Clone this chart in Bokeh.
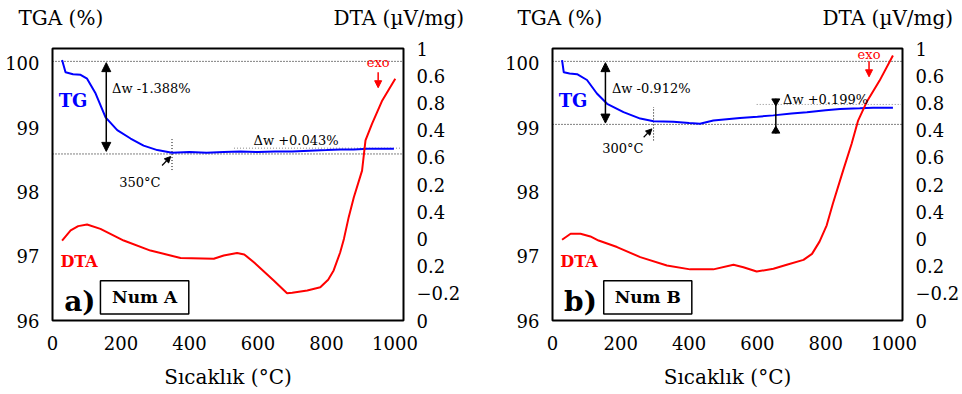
from bokeh.plotting import figure
from bokeh.layouts import row, column
from bokeh.models import Range1d, LinearAxis, FixedTicker, Label, Arrow, NormalHead
from bokeh.core.properties import value
from bokeh.embed import file_html
from bokeh.resources import INLINE

# ---------------- data ----------------
# Panel a) Num A
tg_a_T = [28, 38, 60, 82, 101, 126, 155, 189, 228, 266, 306, 349, 400, 450, 500, 549, 600, 650, 700, 750, 800, 841, 880, 920, 960, 997]
tg_a_v = [100.05, 99.86, 99.83, 99.82, 99.76, 99.53, 99.16, 98.96, 98.83, 98.72, 98.65, 98.61, 98.62, 98.61, 98.62, 98.63, 98.62, 98.63, 98.63, 98.64, 98.65, 98.66, 98.66, 98.67, 98.67, 98.67]
dta_a_T = [28, 53, 75, 101, 140, 208, 286, 374, 471, 500, 539, 560, 588, 646, 685, 700, 744, 782, 805, 821, 840, 851, 865, 880, 904, 914, 933, 963, 1001]
dta_a_v = [0.294, 0.331, 0.347, 0.353, 0.337, 0.294, 0.257, 0.230, 0.227, 0.239, 0.248, 0.243, 0.214, 0.147, 0.100, 0.102, 0.110, 0.122, 0.150, 0.184, 0.250, 0.300, 0.380, 0.453, 0.551, 0.662, 0.723, 0.809, 0.889]

# Panel b) Num B
tg_b_T = [28, 33, 50, 72, 101, 130, 160, 208, 257, 296, 354, 400, 432, 471, 549, 600, 647, 700, 745, 800, 842, 900, 939, 997]
tg_b_v = [100.05, 99.86, 99.84, 99.83, 99.74, 99.53, 99.37, 99.24, 99.14, 99.10, 99.09, 99.07, 99.06, 99.11, 99.15, 99.17, 99.19, 99.22, 99.24, 99.27, 99.29, 99.30, 99.31, 99.31]
dta_b_T = [28, 53, 82, 111, 135, 189, 257, 335, 403, 471, 530, 559, 598, 647, 686, 735, 760, 782, 803, 821, 851, 876, 895, 920, 958, 997]
dta_b_v = [0.297, 0.319, 0.319, 0.309, 0.294, 0.270, 0.233, 0.202, 0.188, 0.188, 0.205, 0.196, 0.180, 0.190, 0.205, 0.223, 0.245, 0.290, 0.350, 0.429, 0.551, 0.650, 0.735, 0.803, 0.882, 0.974]

x_ticks = [0, 200, 400, 600, 800, 1000]
tga_ticks = [96, 97, 98, 99, 100]
dta_tick_pos = [0, 0.1, 0.2, 0.3, 0.4, 0.5, 0.6, 0.7, 0.8, 0.9, 1.0]
dta_tick_labels = ["0", "\u22120.2", "0.2", "0", "0.4", "0.2", "0.6", "0.4", "0.8", "0.6", "1"]
titles = ["TGA (%)", "DTA (\u00b5V/mg)"]

FONT = "DejaVu Serif"
BLUE = "#0000ff"
RED = "#ff0000"


def title_strip(width, xs):
    t = figure(width=width, height=34, output_backend="svg", toolbar_location=None,
               x_range=Range1d(0, width), y_range=Range1d(0, 34),
               x_axis_type=None, y_axis_type=None, min_border=0)
    t.outline_line_color = None
    t.grid.visible = False
    t.text(x=xs, y=[17, 17], text=titles, text_font=value(FONT), text_font_size="20px",
           text_baseline="middle", text_align="left", text_color="black")
    return t


def make_panel(width, right_border, tgT, tgV, dT, dV, letter, name, cfg):
    p = figure(width=width, height=360, output_backend="svg", toolbar_location=None,
               x_range=Range1d(0, 1025), y_range=Range1d(96, 100.23),
               min_border_left=52, min_border_right=right_border,
               min_border_top=14, min_border_bottom=74)
    p.extra_y_ranges = {"dta": Range1d(0, 1)}
    p.grid.visible = False
    p.outline_line_color = "black"
    p.outline_line_width = 2
    p.background_fill_color = "white"
    p.border_fill_color = "white"

    xa = p.xaxis[0]
    xa.ticker = FixedTicker(ticks=x_ticks)
    xa.axis_label = "S\u0131cakl\u0131k (\u00b0C)"
    ya = p.yaxis[0]
    ya.ticker = FixedTicker(ticks=tga_ticks)
    ra = LinearAxis(y_range_name="dta", ticker=FixedTicker(ticks=dta_tick_pos),
                    major_label_overrides={t: l for t, l in zip(dta_tick_pos, dta_tick_labels)})
    p.add_layout(ra, "right")
    for ax in (xa, ya, ra):
        ax.axis_line_color = None
        ax.major_tick_line_color = None
        ax.minor_tick_line_color = None
        ax.major_label_text_font = FONT
        ax.major_label_text_font_size = "18px"
        ax.major_label_text_color = "black"
        ax.axis_label_text_font = FONT
        ax.axis_label_text_font_size = "20px"
        ax.axis_label_text_font_style = "normal"
        ax.axis_label_text_color = "black"
    xa.major_label_standoff = 9
    xa.axis_label_standoff = 12
    ya.major_label_standoff = 7
    ra.major_label_standoff = 7

    # dotted guide lines
    p.line([0, 1025], [cfg["top"], cfg["top"]], line_color="black", line_dash="1 2", line_width=1)
    p.line([0, 1025], [cfg["low"], cfg["low"]], line_color="black", line_dash="1 2", line_width=1)
    p.line([cfg["grey_x0"], 1025], [cfg["grey_y"], cfg["grey_y"]], line_color="#888888", line_dash="1 2", line_width=1)
    p.line([cfg["vT"], cfg["vT"]], cfg["vY"], line_color="black", line_dash="1 2", line_width=1)

    # curves
    p.line(tgT, tgV, line_color=BLUE, line_width=2)
    p.line(dT, dV, line_color=RED, line_width=2, y_range_name="dta")

    # arrows
    p.add_layout(Arrow(x_start=cfg["aT"], y_start=cfg["aY"][0], x_end=cfg["aT"], y_end=cfg["aY"][1],
                       line_color="black", line_width=1.5,
                       start=NormalHead(size=9, fill_color="black", line_color="black"),
                       end=NormalHead(size=9, fill_color="black", line_color="black")))
    p.add_layout(Arrow(x_start=cfg["pT"][0], y_start=cfg["pY"][0], x_end=cfg["pT"][1], y_end=cfg["pY"][1],
                       line_color="black", line_width=1.2,
                       end=NormalHead(size=6, fill_color="black", line_color="black")))
    p.add_layout(Arrow(x_start=cfg["eT"], y_start=cfg["eY"][0], x_end=cfg["eT"], y_end=cfg["eY"][1],
                       line_color=RED, line_width=1.5,
                       end=NormalHead(size=7, fill_color=RED, line_color=RED)))
    if cfg.get("ibar"):
        bT, b0, b1 = cfg["ibar"]
        p.segment([bT], [b0], [bT], [b1], line_color="black", line_width=1.5)
        p.scatter([bT], [b1 - 0.04], marker="inverted_triangle", size=8, color="black")
        p.scatter([bT], [b0 + 0.04], marker="triangle", size=8, color="black")

    def lab(x, y, text, size, color="black", style="normal", align="left"):
        p.add_layout(Label(x=x, y=y, text=text, text_font=FONT, text_font_size=size,
                           text_color=color, text_font_style=style, text_align=align,
                           text_baseline="middle"))

    lab(18, 99.42, "TG", "18px", BLUE, "bold")
    lab(23, 96.91, "DTA", "16px", RED, "bold")
    lab(cfg["dwT"], 99.61, cfg["dw1"], "13px")
    lab(cfg["dw2T"], cfg["dw2Y"], cfg["dw2"], "13px")
    lab(cfg["tT"], cfg["tY"], cfg["ttxt"], "13px", align="center")
    lab(cfg["eT"], cfg["exoY"], "exo", "13px", RED, align="center")
    lab(34, 96.30, letter, "28px", "black", "bold")

    bx0, bx1 = cfg["box"]
    p.quad(left=[bx0], right=[bx1], bottom=[96.10], top=[96.62], fill_color="white",
           line_color="black", line_width=1.5)
    lab((bx0 + bx1) / 2, 96.36, name, "17px", "black", "bold", align="center")
    return p


cfg_a = dict(top=100.03, low=98.59, grey_x0=530, grey_y=98.68, vT=349, vY=[98.34, 98.82],
             aT=157, aY=[98.63, 100.01], pT=[320, 345], pY=[98.41, 98.55],
             eT=951, eY=[99.86, 99.62], exoY=100.02, dwT=174, dw1="\u0394w -1.388%",
             dw2T=587, dw2Y=98.80, dw2="\u0394w +0.043%", tT=255, tY=98.14, ttxt="350\u00b0C",
             box=[140, 398])
cfg_b = dict(top=100.03, low=99.05, grey_x0=598, grey_y=99.36, vT=296, vY=[98.80, 99.32],
             aT=155, aY=[99.07, 100.01], pT=[267, 291], pY=[98.85, 98.98],
             eT=927, eY=[100.03, 99.79], exoY=100.13, dwT=174, dw1="\u0394w -0.912%",
             dw2T=675, dw2Y=99.43, dw2="\u0394w +0.199%", tT=206, tY=98.67, ttxt="300\u00b0C",
             box=[150, 408], ibar=(654, 98.91, 99.45))

t1 = title_strip(500, [18, 333])
t2 = title_strip(462, [17, 322])
p1 = make_panel(500, 97, tg_a_T, tg_a_v, dta_a_T, dta_a_v, "a)", "Num A", cfg_a)
p2 = make_panel(462, 59, tg_b_T, tg_b_v, dta_b_T, dta_b_v, "b)", "Num B", cfg_b)

layout = column(row(t1, t2), row(p1, p2))
open("out.html", "w").write(file_html(layout, INLINE))
